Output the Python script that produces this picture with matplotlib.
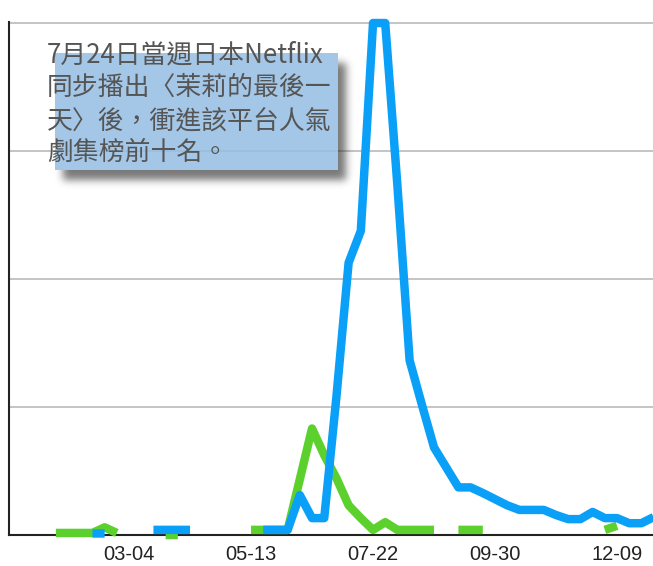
import numpy as np
import pandas as pd
import matplotlib
matplotlib.use("Agg")
import matplotlib.pyplot as plt
import matplotlib.dates as mdates
from matplotlib.patches import Rectangle

nan = np.nan

# ---------------- data ----------------
weeks = pd.date_range("2018-01-21", "2018-12-30", freq="W-SUN")  # 50 weekly points

blue_values = [nan, nan, nan, 0.3, 0.3, nan, nan, nan,
               1, 1, 1, 1,
               nan, nan, nan, nan, nan,
               1, 1, 1, 7.8, 3.3, 3.3, 27, 53.2, 59.4, 100, 100, 68.2, 34.1,
               25.5, 17.1, 13.2, 9.3, 9.3, 8.2, 7.0, 5.8, 4.9, 4.9, 4.9, 3.9,
               3.1, 3.1, 4.5, 3.3, 3.3, 2.3, 2.3, 3.5]

green_values = [0.4, 0.4, 0.4, 0.4, 1.5, 0.4,
                nan, nan, nan,
                0, 0,
                nan, nan, nan, nan, nan,
                1, 1, 1, 1, 10.9, 20.8, 15.6, 11.1, 5.8, 3.3, 1.0, 2.5, 1.0, 1, 1, 1,
                nan,
                1, 1, 1,
                nan, nan, nan, nan, nan, nan, nan, nan, nan,
                1, 1.8,
                nan, nan, nan]

tick_dates = ["2018-03-04", "2018-05-13", "2018-07-22", "2018-09-30", "2018-12-09"]
tick_labels = ["03-04", "05-13", "07-22", "09-30", "12-09"]
grid_values = [25, 50, 75, 100]

annotation_lines = ["7月24日當週日本Netflix",
                    "同步播出〈茉莉的最後一",
                    "天〉後，衝進該平台人氣",
                    "劇集榜前十名。"]

# ---------------- figure ----------------
W, H = 653, 566
fig = plt.figure(figsize=(W / 100, H / 100), dpi=100)
fig.patch.set_facecolor("white")
ax = fig.add_axes([9 / W, 31 / H, 644 / W, 513.5 / H])

BLUE = "#0aa0f8"
GREEN = "#5cd12e"
LW = 6.1

ax.plot(weeks, green_values, color=GREEN, lw=LW, solid_joinstyle="round",
        solid_capstyle="butt", clip_on=False, zorder=3)
ax.plot(weeks, blue_values, color=BLUE, lw=LW, solid_joinstyle="round",
        solid_capstyle="butt", clip_on=False, zorder=4)

ref = pd.Timestamp("2018-03-04")
x_left = mdates.date2num(ref - pd.Timedelta(days=7 * 9.84))
x_right = mdates.date2num(ref + pd.Timedelta(days=7 * 42.95))
ax.set_xlim(x_left, x_right)
ax.set_ylim(0, 100.3)

ax.set_xticks([mdates.date2num(pd.Timestamp(d)) for d in tick_dates])
ax.set_xticklabels(tick_labels, fontsize=14.5, family="Liberation Sans", color="#222222")
ax.tick_params(axis="x", length=0, pad=7)

ax.set_yticks(grid_values)
ax.tick_params(axis="y", length=0, labelleft=False)
ax.grid(axis="y", color="#c4c4c4", lw=1.4)
ax.set_axisbelow(True)

for s in ["top", "right"]:
    ax.spines[s].set_visible(False)
for s in ["left", "bottom"]:
    ax.spines[s].set_color("#222222")
    ax.spines[s].set_linewidth(1.5)

# ---------------- annotation box with soft shadow ----------------
bx0, by0, bx1, by1 = 55, 53, 338, 170
dx, dy, sigma = 8, 10, 4.0
mask = np.zeros((H, W))
mask[by0 + dy:by1 + dy, bx0 + dx:bx1 + dx] = 1.0
kx = np.arange(-12, 13)
kern = np.exp(-0.5 * (kx / sigma) ** 2)
kern /= kern.sum()
blur = np.apply_along_axis(lambda r: np.convolve(r, kern, mode="same"), 1, mask)
blur = np.apply_along_axis(lambda c: np.convolve(c, kern, mode="same"), 0, blur)
blur[by0:by1, bx0:bx1] = 0.0
rgba = np.zeros((H, W, 4))
rgba[..., 0:3] = 0.15
rgba[..., 3] = np.clip(blur * 0.62, 0, 1)
fig.figimage(rgba, xo=0, yo=0, origin="upper", zorder=1)

fig.add_artist(Rectangle((bx0 / W, 1 - by1 / H), (bx1 - bx0) / W, (by1 - by0) / H,
                         transform=fig.transFigure, facecolor="#95bee4",
                         alpha=0.86, edgecolor="none", zorder=2))

baselines = [62, 95, 128, 160]
for line, yb in zip(annotation_lines, baselines):
    fig.text(47 / W, 1 - yb / H, line, ha="left", va="baseline", fontsize=18.6,
             fontweight="light", color="#555555",
             family=["Noto Sans CJK TC", "DejaVu Sans"], zorder=3)

fig.savefig("out.png", dpi=100)
